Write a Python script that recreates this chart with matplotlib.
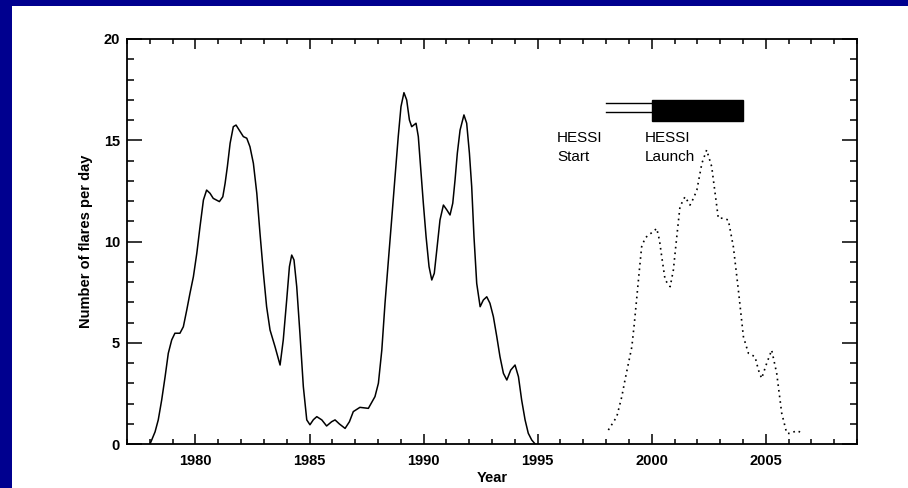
import matplotlib

matplotlib.use("Agg")

import matplotlib.pyplot as plt
from matplotlib.patches import Rectangle
from matplotlib.ticker import MultipleLocator

plt.rcParams["font.family"] = ["Liberation Sans", "DejaVu Sans"]

# flare rate, cycles 21/22 (solid)
past_years = [
    1978.01, 1978.23, 1978.37, 1978.52, 1978.67, 1978.81, 1978.96, 1979.10,
    1979.32, 1979.47, 1979.62, 1979.76, 1979.91, 1980.06, 1980.20, 1980.35,
    1980.49, 1980.64, 1980.78, 1981.05, 1981.20, 1981.30, 1981.40, 1981.52,
    1981.66, 1981.78, 1981.92, 1982.10, 1982.25, 1982.39, 1982.54, 1982.69,
    1982.83, 1982.98, 1983.12, 1983.27, 1983.49, 1983.71, 1983.85, 1984.00,
    1984.12, 1984.22, 1984.32, 1984.44, 1984.58, 1984.73, 1984.88, 1985.02,
    1985.17, 1985.32, 1985.54, 1985.75, 1985.97, 1986.12, 1986.31, 1986.56,
    1986.75, 1986.92, 1987.21, 1987.58, 1987.87, 1988.02, 1988.17, 1988.31,
    1988.46, 1988.60, 1988.75, 1988.89, 1989.01, 1989.14, 1989.26, 1989.38,
    1989.48, 1989.67, 1989.77, 1989.88, 1989.99, 1990.11, 1990.24, 1990.36,
    1990.47, 1990.58, 1990.72, 1990.87, 1991.02, 1991.16, 1991.28, 1991.38,
    1991.48, 1991.60, 1991.77, 1991.89, 1992.01, 1992.11, 1992.21, 1992.33,
    1992.48, 1992.62, 1992.77, 1992.91, 1993.06, 1993.21, 1993.35, 1993.50,
    1993.65, 1993.82, 1994.01, 1994.16, 1994.30, 1994.45, 1994.59, 1994.74,
    1994.89,
]
past_flares = [
    0.0, 0.6, 1.19, 2.17, 3.32, 4.48, 5.14, 5.47,
    5.47, 5.79, 6.62, 7.44, 8.26, 9.42, 10.73, 12.05,
    12.54, 12.38, 12.13, 11.97, 12.21, 12.87, 13.7, 14.85,
    15.67, 15.75, 15.5, 15.18, 15.1, 14.68, 13.86, 12.38,
    10.4, 8.43, 6.78, 5.63, 4.8, 3.9, 5.14, 7.11,
    8.76, 9.33, 9.09, 7.77, 5.47, 2.83, 1.19, 0.95,
    1.2, 1.35, 1.19, 0.89, 1.1, 1.19, 0.99, 0.77,
    1.1, 1.6, 1.81, 1.76, 2.34, 3.0, 4.64, 6.95,
    9.09, 11.06, 13.2, 15.18, 16.66, 17.35, 16.99, 16.0,
    15.67, 15.84, 15.18, 13.53, 11.89, 10.24, 8.76, 8.1,
    8.43, 9.58, 11.06, 11.8, 11.56, 11.31, 11.89, 13.04,
    14.36, 15.5, 16.25, 15.84, 14.36, 12.71, 10.24, 7.93,
    6.78, 7.11, 7.27, 6.95, 6.29, 5.3, 4.31, 3.49,
    3.16, 3.65, 3.9, 3.32, 2.17, 1.19, 0.53, 0.2,
    0.0,
]

# predicted flare rate, cycle 23 (dotted)
pred_years = [
    1998.10, 1998.47, 1998.69, 1998.83, 1998.98, 1999.13, 1999.24, 1999.35,
    1999.46, 1999.56, 1999.71, 1999.85, 2000.07, 2000.22, 2000.34, 2000.44,
    2000.59, 2000.81, 2000.95, 2001.10, 2001.24, 2001.46, 2001.68, 2001.83,
    2001.98, 2002.09, 2002.20, 2002.41, 2002.63, 2002.78, 2002.92, 2003.14,
    2003.36, 2003.58, 2003.80, 2004.02, 2004.24, 2004.53, 2004.68, 2004.82,
    2005.04, 2005.26, 2005.48, 2005.70, 2005.92, 2006.07, 2006.36, 2006.65,
]
pred_flares = [
    0.69, 1.35, 2.34, 3.16, 3.98, 4.8, 5.96, 7.27,
    8.59, 9.74, 10.16, 10.32, 10.48, 10.65, 10.07, 9.25,
    8.1, 7.77, 8.59, 10.24, 11.72, 12.21, 11.8, 12.13,
    12.54, 13.2, 13.86, 14.52, 13.7, 12.38, 11.15, 11.15,
    11.06, 9.74, 7.6, 5.3, 4.48, 4.31, 3.65, 3.24,
    3.98, 4.64, 3.49, 1.52, 0.53, 0.52, 0.66, 0.52,
]

hessi_start = 1998.0
hessi_launch = 2000.0
hessi_end = 2004.0

fig = plt.figure(figsize=(9.08, 4.88), dpi=100)
fig.patch.set_facecolor("white")

# dark blue frame, top and left
fig.patches.append(Rectangle((0, 1 - 6 / 488), 1, 6 / 488, transform=fig.transFigure,
                             facecolor="#00008f", edgecolor="none", zorder=0))
fig.patches.append(Rectangle((0, 0), 12 / 908, 1, transform=fig.transFigure,
                             facecolor="#00008f", edgecolor="none", zorder=0))

ax = fig.add_axes([127 / 908, 44 / 488, 730 / 908, 405 / 488])

ax.plot(past_years, past_flares, color="black", linewidth=1.1)
ax.plot(pred_years, pred_flares, color="black", linewidth=1.2,
        linestyle=(0, (1, 2.4)))

# HESSI timeline
ax.plot([hessi_start, hessi_launch], [16.85, 16.85], color="black", linewidth=1.0)
ax.plot([hessi_start, hessi_launch], [16.4, 16.4], color="black", linewidth=1.0)
ax.add_patch(Rectangle((hessi_launch, 15.95), hessi_end - hessi_launch, 1.05,
                       facecolor="black", edgecolor="black"))
ax.text(1995.85, 15.45, "HESSI\nStart", fontsize=11, va="top", ha="left",
        linespacing=1.4)
ax.text(1999.7, 15.45, "HESSI\nLaunch", fontsize=11, va="top", ha="left",
        linespacing=1.4)

ax.set_xlim(1977, 2009)
ax.set_ylim(0, 20)

ax.xaxis.set_major_locator(MultipleLocator(5))
ax.xaxis.set_minor_locator(MultipleLocator(1))
ax.yaxis.set_major_locator(MultipleLocator(5))
ax.yaxis.set_minor_locator(MultipleLocator(1))

ax.tick_params(axis="x", which="major", direction="in", top=True,
               length=7.2, width=1.1, pad=7, labelsize=10.5)
ax.tick_params(axis="x", which="minor", direction="in", top=True,
               length=3.6, width=1.1)
ax.tick_params(axis="y", which="major", direction="in", right=True,
               length=10.8, width=1.1, pad=5, labelsize=10.5)
ax.tick_params(axis="y", which="minor", direction="in", right=True,
               length=5.0, width=1.1)

for label in ax.get_xticklabels() + ax.get_yticklabels():
    label.set_fontweight("bold")

for spine in ax.spines.values():
    spine.set_linewidth(1.3)

ax.set_xlabel("Year", fontsize=10.5, fontweight="bold")
ax.set_ylabel("Number of flares per day", fontsize=10.5, fontweight="bold")
ax.xaxis.set_label_coords(0.5, -0.066)
ax.yaxis.set_label_coords(-0.046, 0.5)

fig.savefig("out.png", dpi=100)
